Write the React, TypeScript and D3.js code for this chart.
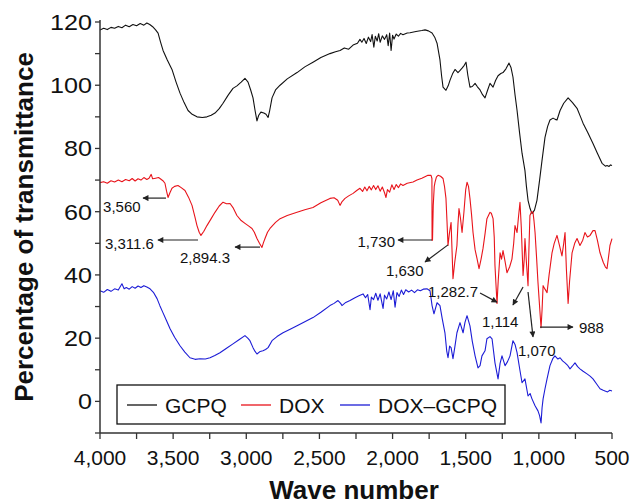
import React from "react";
import * as d3 from "d3";

type Pt = [number, number];

const seriesNames = ["GCPQ", "DOX", "DOX–GCPQ"];
const seriesColors = ["#111111", "#e8141b", "#1c1cd6"];

const gcpqData: Pt[] = [[4000,117.5],[3975,118],[3950,117.6],[3925,118.3],[3900,118],[3875,118.6],[3850,118.2],[3825,119],[3800,118.5],[3775,119.2],[3750,118.8],[3725,119.5],[3700,119],[3680,119.7],[3660,119.2],[3640,118.5],[3620,117.5],[3603,116.5],[3585,113.5],[3569,111],[3540,108],[3508,105],[3480,101],[3453,97.5],[3425,94.5],[3398,92],[3370,90.8],[3337,90],[3300,89.8],[3269,90],[3240,90.5],[3214,91.2],[3185,92.6],[3159,94.3],[3125,96.8],[3091,99],[3064,99.8],[3035,101],[3009,102.2],[2988,101],[2970,98.5],[2954,96],[2940,92],[2927,88.7],[2915,90.5],[2900,91.5],[2880,91.2],[2865,90.8],[2851,89.8],[2840,92],[2824,96],[2800,98.5],[2769,100],[2720,102],[2653,104],[2600,105.8],[2544,107.3],[2490,108.8],[2428,110],[2390,110.6],[2359,111],[2330,111.8],[2300,111.4],[2270,112.7],[2240,113.3],[2223,114.5],[2210,113.6],[2195,114.8],[2180,113.2],[2165,115.2],[2150,113.8],[2140,116],[2128,112],[2118,115.5],[2105,114],[2095,116.3],[2085,113.6],[2070,115.6],[2055,114.5],[2040,116],[2030,112.5],[2020,116.5],[2010,111],[2000,115.8],[1990,114.6],[1975,116.2],[1960,115.5],[1945,116.4],[1929,116],[1900,116.5],[1881,116.6],[1840,117],[1800,117.3],[1778,117.5],[1755,117.2],[1730,116.5],[1712,115.2],[1696,113.3],[1676,108],[1665,103],[1655,99.4],[1635,98.4],[1620,99.8],[1607,101.6],[1590,103.6],[1573,105],[1553,104],[1540,104.6],[1525,105.4],[1510,106.3],[1498,107.3],[1485,103],[1471,99.4],[1455,99.6],[1436,100.6],[1420,99.5],[1402,98.5],[1385,97],[1368,96],[1350,98.5],[1334,100.6],[1313,99.4],[1296,101.5],[1279,103],[1260,103.7],[1245,104],[1225,105.2],[1204,107],[1190,105.5],[1177,102.6],[1163,97],[1149,92],[1132,85],[1115,78.5],[1095,73],[1085,68],[1074,63.6],[1060,61],[1047,59.4],[1030,60.5],[1013,63.6],[995,70],[979,76],[958,83.5],[940,87],[924,89],[903,89.6],[888,89.2],[876,89],[855,92],[830,94.3],[800,96],[770,94.5],[739,92.7],[715,90],[698,88],[665,85],[630,81.6],[600,78.5],[568,75.3],[545,74.4],[534,74.6],[520,74.3],[510,74.8],[500,74.6]];

const doxData: Pt[] = [[4000,69.2],[3975,69.5],[3950,69],[3925,69.8],[3900,69.4],[3875,70],[3850,69.5],[3825,70.2],[3800,69.8],[3780,70.5],[3760,69.7],[3740,70.4],[3720,70],[3700,70.8],[3680,70.2],[3665,70.6],[3650,71.8],[3640,70.4],[3620,70.6],[3600,70.8],[3590,70.5],[3570,69.8],[3556,69],[3545,66.5],[3535,64.5],[3522,66],[3508,67.4],[3490,68],[3467,68.3],[3445,67.6],[3419,66.7],[3395,64.6],[3371,62],[3352,58.5],[3337,55.6],[3322,53.5],[3310,52.5],[3290,53.8],[3269,55.6],[3240,57.8],[3214,59.8],[3185,61.8],[3159,63],[3135,62.5],[3111,62.6],[3091,61.3],[3064,58.8],[3035,57.2],[3009,56.3],[2985,55.5],[2961,54.7],[2945,53.5],[2927,51.5],[2910,50],[2893,48.7],[2882,50.3],[2872,51.5],[2855,53.5],[2838,54.7],[2800,56.6],[2769,57.8],[2720,58.8],[2653,59.8],[2600,60.6],[2544,61.3],[2490,62.8],[2428,64.2],[2400,64.4],[2375,63.6],[2359,62],[2345,63.2],[2325,64.2],[2300,65],[2270,65.8],[2245,66.7],[2223,67.4],[2205,66.4],[2190,67.8],[2175,66.6],[2160,68],[2145,66.9],[2130,68.3],[2115,67],[2100,68.2],[2085,66.5],[2070,67.8],[2055,66],[2045,64.5],[2035,67],[2020,66.2],[2005,68.5],[1990,67],[1975,68.6],[1960,67.6],[1945,68.8],[1929,68.3],[1900,69],[1860,69.4],[1833,70],[1800,70.6],[1758,71.5],[1737,71.5],[1731,70.5],[1730,51],[1727,51],[1722,62],[1715,68],[1710,69.3],[1700,71],[1689,71.5],[1672,71.2],[1655,70.5],[1645,68],[1635,64.2],[1628,57],[1621,49.3],[1612,53],[1600,56.6],[1593,47],[1587,38.8],[1575,44],[1560,49.3],[1553,56],[1546,61],[1536,58],[1525,53.4],[1512,60],[1500,67],[1491,69.3],[1481,68],[1471,64.2],[1460,59],[1450,53.4],[1436,48],[1423,45.2],[1409,42],[1395,45],[1382,48.3],[1368,53],[1355,57.8],[1334,59.8],[1325,59.5],[1313,57.8],[1305,52],[1300,43],[1292,36],[1286,31],[1278,38],[1265,47],[1255,45],[1245,47.7],[1232,44.5],[1218,40.7],[1200,42.5],[1184,45],[1172,50],[1163,55.6],[1149,53.4],[1140,58],[1129,63],[1120,55],[1108,39.8],[1100,45],[1095,51.5],[1085,44],[1074,36.6],[1068,48],[1061,58.8],[1050,60],[1040,59.8],[1033,57],[1026,53.4],[1015,45],[1006,37.6],[995,30],[985,23.3],[978,29],[971,36.6],[958,35.5],[944,34.4],[930,40],[910,47],[895,50],[876,52.5],[860,49.5],[842,46],[830,50],[821,53.4],[812,42],[800,31],[790,38],[773,47],[755,50],[739,51.5],[719,49.3],[700,51],[685,53.4],[668,52],[650,52.5],[630,54],[616,54],[600,51],[582,47],[560,44],[545,42.5],[534,42],[520,47],[514,49.3],[500,51.5]];

const doxGcpqData: Pt[] = [[4000,35],[3975,34.5],[3950,35.4],[3925,34.8],[3900,35.6],[3875,35.2],[3850,37.2],[3835,35.6],[3820,36],[3800,35.5],[3780,36.3],[3760,35.8],[3740,36.5],[3720,36],[3700,36.6],[3680,36.2],[3658,35.6],[3635,34.5],[3610,32.5],[3590,30.2],[3569,28],[3545,25.5],[3521,23],[3490,20.3],[3453,17.6],[3420,15.6],[3385,13.8],[3350,13.3],[3316,13.5],[3280,13.4],[3248,13.8],[3215,14.5],[3180,15.4],[3135,16.8],[3091,18.2],[3050,19.5],[3009,20.8],[2990,20],[2975,19.2],[2954,17],[2940,15.8],[2927,15],[2905,15.8],[2886,16],[2868,16.4],[2851,17],[2824,19.2],[2790,20.5],[2749,21.7],[2700,22.8],[2653,23.9],[2600,25.2],[2544,26.5],[2490,28.2],[2428,30.3],[2400,31],[2373,31.9],[2355,31],[2346,30.3],[2320,31.3],[2291,31.9],[2257,32.8],[2230,33.4],[2202,34],[2185,32.8],[2170,33.8],[2154,29],[2145,33],[2130,32.2],[2115,34.2],[2100,32],[2085,34],[2065,29.4],[2055,33.6],[2040,32.4],[2025,34.6],[2010,32.2],[1995,35],[1983,29.8],[1970,34.4],[1955,33.2],[1940,35.2],[1925,33.8],[1910,35.3],[1890,34.6],[1870,35.2],[1850,34.4],[1830,35.3],[1810,35],[1790,35.5],[1765,35.6],[1744,35],[1730,30.3],[1717,27.7],[1696,31.2],[1676,30.3],[1660,26],[1642,21.7],[1630,16],[1621,13.8],[1610,17.5],[1600,17],[1587,13.5],[1575,17],[1560,21.7],[1539,24.9],[1518,21.7],[1505,25],[1491,27.1],[1471,23.9],[1455,19],[1436,14.4],[1416,10.6],[1402,11.3],[1389,14.4],[1368,16],[1355,19.8],[1334,20.5],[1320,19.8],[1300,12.2],[1279,7.1],[1265,12],[1252,14.4],[1231,11.3],[1215,12.5],[1197,14.4],[1177,19.2],[1163,18],[1149,15.4],[1130,10],[1115,5.9],[1095,7.1],[1074,1.7],[1060,2.5],[1047,0.8],[1026,-1.4],[1006,-3],[995,-4.5],[985,-6.8],[978,-2],[971,0.8],[958,4],[944,7.1],[924,11.3],[905,13.5],[890,14.4],[870,13.4],[855,13.8],[838,12.8],[821,12.2],[805,11.5],[787,10.3],[770,11.2],[753,12.2],[735,11],[719,10.3],[700,9.6],[671,8.7],[650,8],[630,7.1],[605,5.5],[582,4],[560,3.5],[548,3.3],[530,3],[515,3.5],[500,3.3]];

const xTickValues = d3.range(4000, 499, -250);
const xLabelValues = d3.range(4000, 499, -500);
const yTickValues = d3.range(-10, 121, 10);
const yLabelValues = d3.range(0, 121, 20);

// annotation labels with arrow start / arrow tip / text anchor point, in data units
const annLabels = ["3,560", "3,311.6", "2,894.3", "1,730", "1,630", "1,282.7", "1,114", "1,070", "988"];
const annFrom: Pt[] = [[3549, 64.3], [3330, 51.05], [2906, 48.8], [1730, 51.05], [1621, 49.5], [1402, 34.3], [1108, 36.2], [1074, 34.6], [992, 23.5]];
const annTo: Pt[] = [[3706, 64.3], [3604, 51.05], [3077, 48.8], [1963, 51.05], [1778, 44.1], [1286, 31.4], [1177, 30.5], [1040, 20.4], [767, 23.5]];
const annText: Pt[] = [[3979, 59.9], [3966, 48.2], [3453, 43.8], [1983, 48.8], [2045, 39.7], [1758, 33], [1389, 23.5], [1143, 14.4], [726, 21.6]];
const annAnchor = ["start", "start", "start", "end", "start", "start", "start", "start", "start"];

const W = 631;
const H = 504;
const FONT = "'Liberation Sans', Arial, sans-serif";

export default function App() {
  const x = d3.scaleLinear().domain([4000, 500]).range([100, 612]);
  const y = d3.scaleLinear().domain([-10, 120]).range([433, 22]);
  const line = d3
    .line<Pt>()
    .x((d) => x(d[0]))
    .y((d) => y(d[1]));
  const fmt = d3.format(",");
  const series = [gcpqData, doxData, doxGcpqData];
  const axisColor = "#333";

  return (
    <svg
      width={W}
      height={H}
      style={{ position: "absolute", left: 0, top: 0, background: "#fff" }}
      fontFamily={FONT}
    >
      <defs>
        <marker id="arr" viewBox="0 0 10 10" refX="9" refY="5" markerWidth="7" markerHeight="6" orient="auto" markerUnits="userSpaceOnUse">
          <path d="M0,0 L10,5 L0,10 z" fill="#222" />
        </marker>
      </defs>
      <rect width={W} height={H} fill="#fff" />

      {/* series */}
      {series.map((s, i) => (
        <path key={i} d={line(s) || ""} fill="none" stroke={seriesColors[i]} strokeWidth={1.1} strokeLinejoin="round" />
      ))}

      {/* axes */}
      <line x1={x(4000)} x2={x(4000)} y1={20} y2={y(-10)} stroke={axisColor} strokeWidth={1.5} />
      <line x1={x(4000)} x2={x(500)} y1={y(-10)} y2={y(-10)} stroke={axisColor} strokeWidth={1.5} />
      {yTickValues.map((v) => (
        <line key={"yt" + v} x1={x(4000) - 5} x2={x(4000)} y1={y(v)} y2={y(v)} stroke={axisColor} strokeWidth={1.3} />
      ))}
      {xTickValues.map((v) => (
        <line key={"xt" + v} x1={x(v)} x2={x(v)} y1={y(-10)} y2={y(-10) + 6} stroke={axisColor} strokeWidth={1.3} />
      ))}
      {yLabelValues.map((v) => {
        const s = String(v);
        return (
          <text
            key={"yl" + v}
            x={92}
            y={y(v)}
            dy="0.36em"
            textAnchor="end"
            fontSize={22}
            textLength={s.length * 14}
            lengthAdjust="spacingAndGlyphs"
            fill="#111"
          >
            {s}
          </text>
        );
      })}
      {xLabelValues.map((v) => (
        <text key={"xl" + v} x={x(v)} y={465} textAnchor="middle" fontSize={21} fill="#111">
          {fmt(v)}
        </text>
      ))}

      {/* axis titles */}
      <text x={354} y={499} textAnchor="middle" fontSize={26} fontWeight="bold" fill="#111">
        Wave number
      </text>
      <text transform={`translate(33,227) rotate(-90)`} textAnchor="middle" fontSize={26} fontWeight="bold" fill="#111">
        Percentage of transmittance
      </text>

      {/* annotations */}
      {annLabels.map((lab, i) => (
        <g key={"ann" + i}>
          <line
            x1={x(annFrom[i][0])}
            y1={y(annFrom[i][1])}
            x2={x(annTo[i][0])}
            y2={y(annTo[i][1])}
            stroke="#222"
            strokeWidth={1.2}
            markerEnd="url(#arr)"
          />
          <text x={x(annText[i][0])} y={y(annText[i][1])} textAnchor={annAnchor[i] as any} fontSize={15} fill="#111">
            {lab}
          </text>
        </g>
      ))}

      {/* legend */}
      <rect x={117} y={385} width={388} height={39} fill="#fff" stroke="#111" strokeWidth={1.3} />
      {seriesNames.map((n, i) => {
        const lx = [127, 241, 340][i];
        return (
          <g key={"lg" + i}>
            <line x1={lx} x2={lx + 30} y1={405} y2={405} stroke={seriesColors[i]} strokeWidth={1.3} />
            <text x={lx + 38} y={413} fontSize={21} fill="#111">
              {n}
            </text>
          </g>
        );
      })}
    </svg>
  );
}
